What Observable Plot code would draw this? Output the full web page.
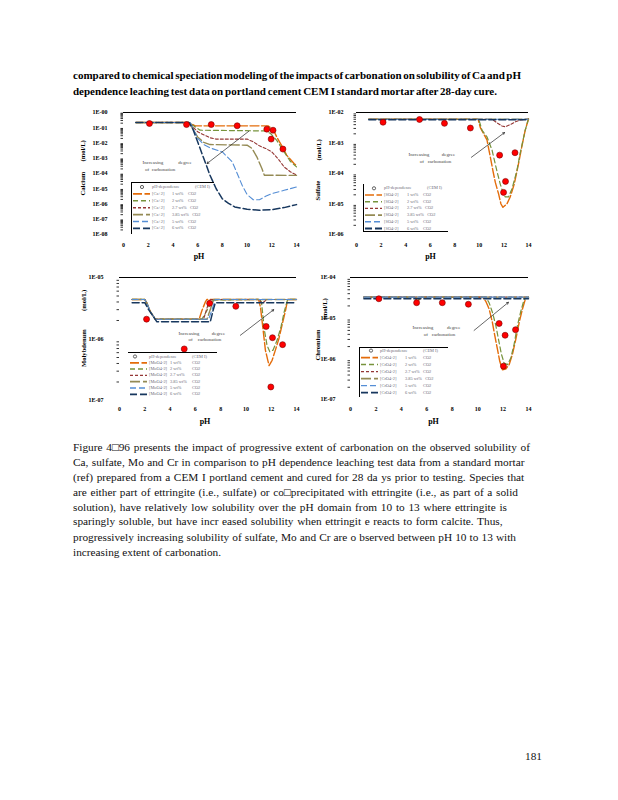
<!DOCTYPE html>
<html><head><meta charset="utf-8">
<script src="https://cdn.jsdelivr.net/npm/d3@7"></script>
<script src="https://cdn.jsdelivr.net/npm/@observablehq/plot@0.6"></script>
<style>
html,body{margin:0;padding:0;background:#fff;}
body{width:618px;height:800px;position:relative;overflow:hidden;font-family:"Liberation Serif","Times New Roman",serif;color:#000;}
.abs{position:absolute;white-space:nowrap;line-height:1;}
.cap{font-weight:bold;font-size:11px;}
.para{font-size:11.3px;color:#111;}
</style></head><body>
<script>
// ---------- shared ----------
const pHTicks = [0, 2, 4, 6, 8, 10, 12, 14];
const wtLabels = ["1 wt%", "2 wt%", "2.7 wt%", "3.85 wt%", "5 wt%", "6 wt%"];

// ---------- Calcium ----------
const caYTicks = [1, 1e-1, 1e-2, 1e-3, 1e-4, 1e-5, 1e-6, 1e-7, 1e-8];
const caYLabels = ["1E-00","1E-01","1E-02","1E-03","1E-04","1E-05","1E-06","1E-07","1E-08"];
const caMeas_pH = [2.1, 5.1, 7.1, 9.2, 11.6, 12.1, 11.95, 12.9];
const caMeas = [0.19, 0.162, 0.162, 0.135, 0.081, 0.069, 0.018, 0.004];
const ca1_pH = [1, 5.3, 5.8, 11.7, 12.1, 12.4, 12.85, 13.2, 13.8, 14];
const ca1 = [0.22, 0.22, 0.133, 0.133, 0.08, 0.025, 0.0056, 0.0016, 0.00045, 0.00032];
const ca2_pH = [1, 5.3, 6.2, 11.5, 11.9, 12.4, 13.0, 13.5, 14];
const ca2 = [0.22, 0.22, 0.069, 0.062, 0.042, 0.015, 0.0026, 0.00063, 0.00027];
const ca27_pH = [1, 5.3, 6.0, 7.0, 7.5, 10.0, 10.5, 11.0, 11.5, 12.0, 12.5, 13.0, 13.5, 14];
const ca27 = [0.22, 0.22, 0.054, 0.022, 0.018, 0.018, 0.012, 0.0065, 0.0044, 0.0026, 0.00095, 0.00027, 0.00013, 0.000079];
const ca385_pH = [1, 5.3, 6.0, 6.5, 7.0, 10.0, 10.4, 10.8, 11.2, 11.4, 14];
const ca385 = [0.22, 0.22, 0.025, 0.011, 0.0079, 0.0072, 0.0044, 0.0012, 0.00021, 0.000077, 0.000075];
const ca5_pH = [1, 5.4, 6.0, 6.5, 7.0, 8.0, 8.8, 9.2, 9.6, 10.0, 10.5, 11.0, 11.5, 12.0, 13.0, 14];
const ca5 = [0.22, 0.22, 0.02, 0.0079, 0.0048, 0.0026, 0.00058, 0.0001, 1.7e-5, 4.2e-6, 1.9e-6, 1.9e-6, 3.2e-6, 4.8e-6, 7.9e-6, 1.3e-5];
const ca6_pH = [1, 5.3, 5.6, 6.0, 6.5, 7.0, 7.5, 8.0, 8.5, 9.0, 10.0, 11.0, 12.0, 13.0, 14.0];
const ca6 = [0.22, 0.22, 0.089, 0.012, 0.00095, 7.7e-5, 1e-5, 2.2e-6, 1.1e-6, 6.4e-7, 4.5e-7, 3.9e-7, 4.2e-7, 5.8e-7, 9.1e-7];

// ---------- Sulfate ----------
const soYTicks = [1e-2, 1e-3, 1e-4, 1e-5, 1e-6];
const soYLabels = ["1E-02","1E-03","1E-04","1E-05","1E-06"];
const soMeas_pH = [2.16, 5.13, 7.16, 9.27, 11.65, 12.9, 12.13, 11.97];
const soMeas = [4.8e-3, 5.9e-3, 4.4e-3, 3.1e-3, 4e-4, 4.8e-4, 5.5e-5, 2.4e-5];
const so1_pH = [1, 9.9, 10.08, 10.35, 10.62, 10.89, 11.11, 11.3, 11.57, 11.76, 11.92, 12.24, 12.51, 12.84, 13.19, 13.46, 13.73, 14];
const so1 = [6e-3, 6e-3, 3.2e-3, 2.0e-3, 1.26e-3, 3.5e-4, 1.2e-4, 5.1e-5, 2.1e-5, 1e-5, 7.8e-6, 1e-5, 1.7e-5, 4.5e-5, 2.1e-4, 7.8e-4, 2.6e-3, 6.2e-3];
const so2_pH = [1, 9.95, 10.22, 10.62, 11.03, 11.43, 11.7, 11.97, 12.11, 12.38, 12.65, 13.05, 13.32, 13.73, 14];
const so2 = [6e-3, 6e-3, 2.6e-3, 1.6e-3, 5.9e-4, 1.2e-4, 4.5e-5, 2.1e-5, 1.7e-5, 1.7e-5, 3.1e-5, 1.2e-4, 4.6e-4, 2.6e-3, 6.2e-3];
const so27_pH = [1, 11.03, 11.43, 11.84, 12.11, 12.51, 12.92, 13.32, 14];
const so27 = [6e-3, 6e-3, 4.6e-3, 3.6e-3, 3.4e-3, 4.0e-3, 4.9e-3, 5.7e-3, 6.1e-3];
const so385_pH = [1, 14];
const so385 = [6e-3, 6e-3];
const so5_pH = [1, 14];
const so5 = [6e-3, 6e-3];
const so6_pH = [1, 14];
const so6 = [5.8e-3, 5.8e-3];

// ---------- Molybdenum ----------
const moYTicks = [1e-5, 1e-6, 1e-7];
const moYLabels = ["1E-05","1E-06","1E-07"];
const moMeas_pH = [2.14, 5.12, 7.13, 9.2, 11.6, 12.1, 12.9, 11.97];
const moMeas = [2.1e-6, 6.9e-7, 3.8e-6, 3.4e-6, 1.6e-6, 1.05e-6, 8.1e-7, 1.66e-7];
const mo1_pH = [1, 2.0, 2.17, 2.43, 2.83, 6.3, 6.52, 6.79, 6.92, 11.0, 11.15, 11.36, 11.54, 11.73, 11.83, 12.07, 12.33, 12.6, 12.86, 13.13, 13.3, 14];
const mo1 = [4.4e-6, 4.4e-6, 3.8e-6, 2.8e-6, 2.1e-6, 2.1e-6, 2.9e-6, 4.0e-6, 4.4e-6, 4.4e-6, 3.3e-6, 1.4e-6, 6.6e-7, 4.5e-7, 3.7e-7, 4.5e-7, 6.6e-7, 1e-6, 1.7e-6, 2.9e-6, 4.4e-6, 4.4e-6];
const mo2_pH = [1, 2.0, 2.17, 2.43, 2.83, 6.52, 6.92, 7.32, 11.1, 11.23, 11.46, 11.67, 11.89, 12.15, 12.47, 12.78, 13.05, 13.3, 14];
const mo2 = [4.4e-6, 4.4e-6, 3.8e-6, 2.8e-6, 2.1e-6, 2.1e-6, 2.9e-6, 4.3e-6, 4.4e-6, 4.0e-6, 1.4e-6, 7.9e-7, 6.2e-7, 6.6e-7, 9.6e-7, 1.6e-6, 2.9e-6, 4.4e-6, 4.4e-6];
const mo27_pH = [1, 2.0, 2.17, 2.43, 2.83, 6.65, 7.13, 11.0, 11.28, 11.67, 14];
const mo27 = [4.4e-6, 4.4e-6, 3.8e-6, 2.8e-6, 2.1e-6, 2.1e-6, 4.4e-6, 4.4e-6, 3.8e-6, 4.4e-6, 4.4e-6];
const mo385_pH = [1, 2.0, 2.17, 2.43, 2.83, 6.92, 7.45, 14];
const mo385 = [4.4e-6, 4.4e-6, 3.8e-6, 2.8e-6, 2.1e-6, 2.1e-6, 4.4e-6, 4.4e-6];
const mo5_pH = [1, 2.0, 2.17, 2.43, 2.83, 7.05, 7.32, 7.58, 14];
const mo5 = [4.4e-6, 4.4e-6, 3.8e-6, 2.8e-6, 2.1e-6, 2.1e-6, 3.0e-6, 4.4e-6, 4.4e-6];
const mo6_pH = [1, 2.0, 2.3, 2.96, 7.18, 7.4, 7.58, 14];
const mo6 = [3.9e-6, 3.9e-6, 3.0e-6, 1.9e-6, 1.9e-6, 2.9e-6, 3.9e-6, 3.9e-6];

// ---------- Chromium ----------
const crYTicks = [1e-4, 1e-5, 1e-6, 1e-7];
const crYLabels = ["1E-04","1E-05","1E-06","1E-07"];
const crMeas_pH = [2.23, 5.2, 7.22, 9.27, 11.69, 12.16, 12.98, 12.03];
const crMeas = [3.0e-5, 2.4e-5, 2.4e-5, 2.2e-5, 7.4e-6, 3.8e-6, 5.2e-6, 6.6e-7];
const cr1_pH = [1.05, 4.99, 5.3, 5.6, 10.38, 10.64, 10.9, 11.16, 11.35, 11.56, 11.74, 11.95, 12.21, 12.48, 12.74, 13.0, 13.27, 13.53, 13.79, 14];
const cr1 = [3.3e-5, 3.3e-5, 2.6e-5, 3.3e-5, 3.3e-5, 2.6e-5, 1.7e-5, 7.9e-6, 3.7e-6, 1.7e-6, 8.7e-7, 5.4e-7, 5.6e-7, 7.2e-7, 1.3e-6, 3e-6, 7.9e-6, 1.7e-5, 3.2e-5, 3.3e-5];
const cr2_pH = [1.05, 4.99, 5.3, 5.6, 10.64, 10.9, 11.16, 11.43, 11.69, 11.87, 12.08, 12.35, 12.61, 12.87, 13.13, 13.4, 13.66, 14];
const cr2 = [3.3e-5, 3.3e-5, 2.8e-5, 3.3e-5, 3.3e-5, 2.4e-5, 1.4e-5, 6.6e-6, 2.5e-6, 1.3e-6, 7.9e-7, 7.2e-7, 1.05e-6, 2.3e-6, 6.6e-6, 1.5e-5, 2.9e-5, 3.3e-5];
const cr27_pH = [1.05, 14];
const cr27 = [3.3e-5, 3.3e-5];
const cr385_pH = [1.05, 14];
const cr385 = [3.3e-5, 3.3e-5];
const cr5_pH = [1.05, 14];
const cr5 = [3.3e-5, 3.3e-5];
const cr6_pH = [1.05, 14];
const cr6 = [3.0e-5, 3.0e-5];

// ---------- styles ----------
const lineStyles = [
  {stroke: "#E46C0A", w: 1.4, dash: "9,2.5"},
  {stroke: "#77933C", w: 1.2, dash: "5,3"},
  {stroke: "#953735", w: 1.1, dash: "3,2"},
  {stroke: "#948A54", w: 1.4, dash: "10,3"},
  {stroke: "#558ED5", w: 1.1, dash: "6,3"},
  {stroke: "#17375E", w: 1.5, dash: "7,3"}
];
const nb = n => "\u00a0".repeat(n);

function minorTicks(domain) {
  const out = [];
  const lo = Math.round(Math.log10(domain[0])), hi = Math.round(Math.log10(domain[1]));
  for (let e = lo; e < hi; e++) for (let k = 2; k <= 9; k++) out.push(k * Math.pow(10, e));
  return out;
}

function place(el, left, top) {
  el.style.position = "absolute";
  el.style.left = left + "px";
  el.style.top = top + "px";
  document.body.appendChild(el);
}

function makePanel(p) {
  const marks = [];
  marks.push(Plot.ruleY([p.yDomain[1]], {stroke: "#000", strokeWidth: 1.2}));
  marks.push(Plot.axisY({ticks: p.yTicks, tickSize: 0, tickPadding: p.yPad, fontSize: 6, label: null,
    tickFormat: d => p.yLabels[p.yTicks.findIndex(t => Math.abs(Math.log10(t) - Math.log10(d)) < 1e-6)]}));
  marks.push(Plot.axisY({ticks: minorTicks(p.yDomain), tickSize: 2.5, tickFormat: () => "", label: null, strokeWidth: 0.8}));
  marks.push(Plot.axisX({ticks: pHTicks, tickSize: 0, tickPadding: p.xPad, fontSize: 6, label: null, tickFormat: d => String(d)}));
  p.series.forEach((s, i) => {
    const st = lineStyles[i];
    marks.push(Plot.line(s.pH.map((x, j) => ({x, y: s.v[j]})),
      {x: "x", y: "y", stroke: st.stroke, strokeWidth: st.w, strokeDasharray: st.dash}));
  });
  marks.push(Plot.arrow([p.arrow], {x1: "x1", y1: "y1", x2: "x2", y2: "y2", stroke: "#000", strokeWidth: 0.6, headLength: 5, bend: 0}));
  marks.push(Plot.text([p.note], {x: "x", y: "y", text: "t", textAnchor: "start", fontSize: 5, lineHeight: 1.3, fontWeight: "normal", fill: "#444"}));
  marks.push(Plot.dot(p.meas_pH.map((x, j) => ({x, y: p.meas[j]})),
    {x: "x", y: "y", r: 3, fill: "#FF0000", stroke: "#7a0000", strokeWidth: 0.6}));
  marks.push(Plot.text([p.yName], {frameAnchor: "left", rotate: -90, dx: p.nameDx, dy: p.nameDy, fontSize: 6.6}));
  marks.push(Plot.text(["(mol/L)"], {frameAnchor: "left", rotate: -90, dx: p.unitDx, dy: p.unitDy, fontSize: 6.6}));
  marks.push(Plot.text(["pH"], {frameAnchor: "bottom", dx: p.pHdx, dy: p.pHdy, fontSize: 8}));
  const svg = Plot.plot({
    width: p.width, height: p.height,
    marginLeft: p.ml, marginRight: p.mr, marginTop: p.mt, marginBottom: p.mb,
    x: {domain: [0, 14]},
    y: {type: "log", domain: p.yDomain},
    style: {fontFamily: "Liberation Serif", fontWeight: "bold", background: "none", overflow: "visible"},
    marks
  });
  place(svg, p.left, p.top);
}

function makeLegend(g) {
  const svg = d3.create("svg").attr("width", g.w).attr("height", g.h)
    .style("overflow", "visible").style("font-family", "Liberation Serif");
  const b = svg.append("g").attr("stroke", "#000").attr("stroke-width", 1);
  if (g.top) b.append("line").attr("x1", 0).attr("x2", g.w).attr("y1", 0.5).attr("y2", 0.5);
  if (g.leftB) b.append("line").attr("x1", 0.5).attr("x2", 0.5).attr("y1", 0).attr("y2", g.h);
  if (g.bottom) b.append("line").attr("x1", 0).attr("x2", g.w).attr("y1", g.h - 0.5).attr("y2", g.h - 0.5);
  const rowY = i => g.r0 + i * g.dr;
  const t = svg.append("g").attr("font-size", 4.4).attr("fill", "#6b6b78").attr("dominant-baseline", "middle");
  svg.append("circle").attr("cx", g.mk).attr("cy", rowY(0)).attr("r", 1.6).attr("fill", "none").attr("stroke", "#222").attr("stroke-width", 0.7);
  t.append("text").attr("x", 21).attr("y", rowY(0)).text("pH-dependence");
  t.append("text").attr("x", 64).attr("y", rowY(0)).text("(CEM I)");
  wtLabels.forEach((wl, i) => {
    const st = lineStyles[i];
    svg.append("line").attr("x1", 2).attr("x2", 19).attr("y1", rowY(i + 1)).attr("y2", rowY(i + 1))
      .attr("stroke", st.stroke).attr("stroke-width", st.w + 0.3).attr("stroke-dasharray", st.dash);
    t.append("text").attr("x", 21).attr("y", rowY(i + 1)).text(g.species);
    t.append("text").attr("x", g.am).attr("y", rowY(i + 1)).text(wl);
    t.append("text").attr("x", g.co).attr("y", rowY(i + 1)).text("CO2");
  });
  place(svg.node(), g.left, g.top0);
  // push "CO2" to the right of long amount labels so they never collide
  const texts = svg.selectAll("text").nodes();
  for (let i = 0; i < texts.length; i++) {
    const el = texts[i];
    if (el.textContent === "CO2") {
      const bb = texts[i - 1].getBBox();
      const end = bb.x + bb.width;
      if (end + 3 > g.co) el.setAttribute("x", end + 3);
    }
  }
}

// Calcium panel
makePanel({
  left: 60, top: 100, width: 240, height: 165, ml: 63, mr: 4, mt: 12, mb: 31,
  yDomain: [1e-8, 1], yTicks: caYTicks, yLabels: caYLabels, yPad: 16, xPad: 8,
  series: [{pH: ca1_pH, v: ca1}, {pH: ca2_pH, v: ca2}, {pH: ca27_pH, v: ca27}, {pH: ca385_pH, v: ca385}, {pH: ca5_pH, v: ca5}, {pH: ca6_pH, v: ca6}],
  meas_pH: caMeas_pH, meas: caMeas,
  arrow: {x1: 10.14, y1: 0.059, x2: 6.76, y2: 4.5e-4},
  note: {x: 1.54, y: 3.3e-4, t: "Increasing" + nb(12) + "degree\n" + nb(2) + "of" + nb(2) + "carbonation"},
  yName: "Calcium", nameDx: -41, nameDy: 22, unitDx: -41, unitDy: -12, pHdx: -11, pHdy: 24
});
// Sulfate panel
makePanel({
  left: 310, top: 100, width: 222, height: 165, ml: 46, mr: 4, mt: 12, mb: 31,
  yDomain: [1e-6, 1e-2], yTicks: soYTicks, yLabels: soYLabels, yPad: 13, xPad: 8,
  series: [{pH: so1_pH, v: so1}, {pH: so2_pH, v: so2}, {pH: so27_pH, v: so27}, {pH: so385_pH, v: so385}, {pH: so5_pH, v: so5}, {pH: so6_pH, v: so6}],
  meas_pH: soMeas_pH, meas: soMeas,
  arrow: {x1: 9.35, y1: 3.4e-4, x2: 12.05, y2: 2.2e-3},
  note: {x: 4.23, y: 3.35e-4, t: "Increasing" + nb(10) + "degree\n" + nb(9) + "of" + nb(3) + "carbonation"},
  yName: "Sulfate", nameDx: -39, nameDy: 27, unitDx: -38, unitDy: -13, pHdx: -12, pHdy: 24
});
// Molybdenum panel
makePanel({
  left: 60, top: 265, width: 240, height: 165, ml: 59, mr: 4, mt: 12, mb: 30,
  yDomain: [1e-7, 1e-5], yTicks: moYTicks, yLabels: moYLabels, yPad: 16, xPad: 6,
  series: [{pH: mo1_pH, v: mo1}, {pH: mo2_pH, v: mo2}, {pH: mo27_pH, v: mo27}, {pH: mo385_pH, v: mo385}, {pH: mo5_pH, v: mo5}, {pH: mo6_pH, v: mo6}],
  meas_pH: moMeas_pH, meas: moMeas,
  arrow: {x1: 9.56, y1: 1.15e-6, x2: 12.2, y2: 3.0e-6},
  note: {x: 4.67, y: 1.12e-6, t: "Increasing" + nb(10) + "degree\n" + nb(8) + "of" + nb(4) + "carbonation"},
  yName: "Molybdenum", nameDx: -36, nameDy: 28, unitDx: -36, unitDy: -28, pHdx: -3, pHdy: 23
});
// Chromium panel
makePanel({
  left: 310, top: 265, width: 222, height: 165, ml: 40, mr: 4, mt: 12, mb: 31,
  yDomain: [1e-7, 1e-4], yTicks: crYTicks, yLabels: crYLabels, yPad: 15, xPad: 7,
  series: [{pH: cr1_pH, v: cr1}, {pH: cr2_pH, v: cr2}, {pH: cr27_pH, v: cr27}, {pH: cr385_pH, v: cr385}, {pH: cr5_pH, v: cr5}, {pH: cr6_pH, v: cr6}],
  meas_pH: crMeas_pH, meas: crMeas,
  arrow: {x1: 9.72, y1: 5e-6, x2: 12.42, y2: 2.45e-5},
  note: {x: 4.88, y: 5e-6, t: "Increasing" + nb(11) + "degree\n" + nb(9) + "of" + nb(3) + "carbonation"},
  yName: "Chromium", nameDx: -33, nameDy: 22, unitDx: -26, unitDy: -19, pHdx: -6, pHdy: 24
});

// legends
makeLegend({left: 131, top0: 181.5, w: 83, h: 52, top: true, leftB: true, bottom: false, r0: 5, dr: 6.9, mk: 11, am: 41, co: 57, species: "[Ca+2]"});
makeLegend({left: 363, top0: 184, w: 85, h: 48, top: false, leftB: true, bottom: true, r0: 4.3, dr: 6.7, mk: 11, am: 44, co: 60, species: "[SO4-2]"});
makeLegend({left: 128, top0: 351.5, w: 89, h: 46, top: true, leftB: false, bottom: false, r0: 4.5, dr: 6.3, mk: 7, am: 42, co: 64, species: "[MoO4-2]"});
makeLegend({left: 359, top0: 347.3, w: 89, h: 50, top: true, leftB: true, bottom: false, r0: 3.6, dr: 7.0, mk: 12, am: 46, co: 64, species: "[CrO4-2]"});

// ---------- text ----------
function textLine(cls, str, left, top, target) {
  const d = document.createElement("div");
  d.className = "abs " + cls;
  d.textContent = str;
  d.style.left = left + "px";
  d.style.top = top + "px";
  document.body.appendChild(d);
  if (target) {
    const w = d.getBoundingClientRect().width;
    const n = (str.match(/ /g) || []).length;
    if (n) d.style.wordSpacing = ((target - w) / n) + "px";
  }
  return d;
}
const captionLines = [
  "compared to chemical speciation modeling of the impacts of carbonation on solubility of Ca and pH",
  "dependence leaching test data on portland cement CEM I standard mortar after 28-day cure."
];
const captionTops = [70, 86];
const captionWidths = [448, 424];
captionLines.forEach((s, i) => textLine("cap", s, 73, captionTops[i], captionWidths[i]));

const paraLines = [
  "Figure 4\u25A196 presents the impact of progressive extent of carbonation on the observed solubility of",
  "Ca, sulfate, Mo and Cr in comparison to pH dependence leaching  test data from a standard mortar",
  "(ref) prepared from a CEM I portland cement and cured for 28 da ys prior to testing.  Species that",
  "are either part of ettringite (i.e., sulfate) or co\u25A1precipitated with ettringite (i.e., as part of a solid",
  "solution), have relatively low solubility over the pH domain from 10 to 13 where ettringite is",
  "sparingly soluble, but have incr  eased solubility when ettringit  e reacts to form calcite.  Thus,",
  "progressively increasing solubility of sulfate, Mo and Cr are o bserved between pH 10 to 13 with",
  "increasing extent of carbonation."
];
const paraCenters = [449, 464, 479, 494, 509, 523.5, 539, 554];
const paraWidths = [457, 452, 452, 445, 434, 432, 443, 0];
paraLines.forEach((s, i) => textLine("para", s, 73, paraCenters[i] - 7.5, paraWidths[i]));

textLine("para", "181", 525, 750.5, 0);
</script>
</body></html>
